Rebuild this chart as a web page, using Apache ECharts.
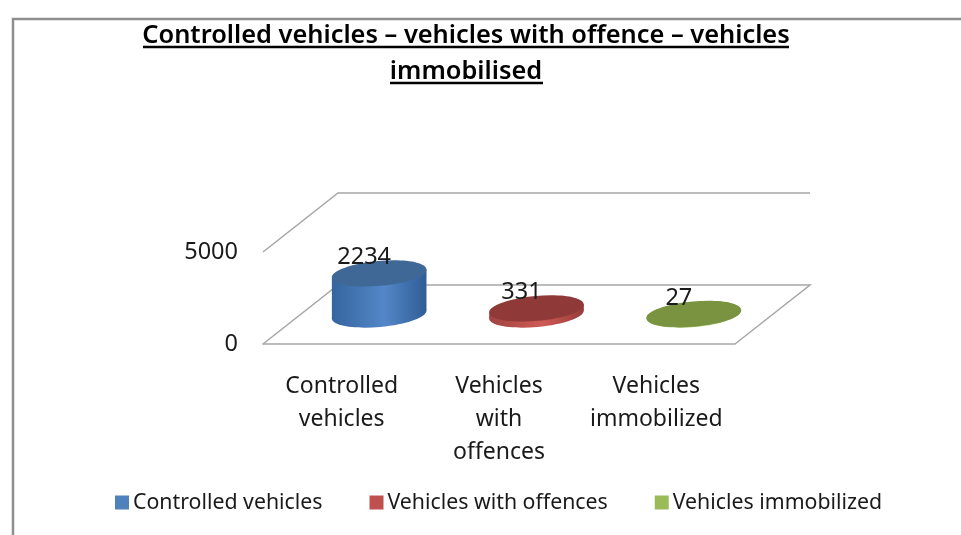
<!DOCTYPE html>
<html><head><meta charset="utf-8">
<style>html,body{margin:0;padding:0;background:#fff}#c{width:961px;height:535px}</style>
<script src="https://cdn.jsdelivr.net/npm/echarts@6/dist/echarts.min.js"></script>
</head><body><div id="c"></div>
<script>
var titleText = 'Controlled vehicles – vehicles with offence – vehicles\nimmobilised';
var categories = ['Controlled vehicles', 'Vehicles with offences', 'Vehicles immobilized'];
var values = [2234, 331, 27];
var yTicks = [0, 5000];
var legendColors = ['#4f81bd', '#c0504d', '#9bbb59'];
var sideLeft = ['#35659f', '#a04340', '#7d9a45'];
var sideMid = ['#5487c8', '#cf5a56', '#a5c563'];
var sideRight = ['#2f5d96', '#963c3a', '#76923f'];
var topColors = ['#3f6896', '#8f3a38', '#7a9340'];

var DEPTH_X = 75, DEPTH_Y = 59, RX = 47.5, RY = 12.5, TILT = 0.09;
var FONT = '"Noto Sans", sans-serif';

var chart = echarts.init(document.getElementById('c'), null, {renderer: 'canvas'});

function renderWall(params, api) {
  var cs = params.coordSys;
  var v = api.value(1);
  var y = api.coord([0, v])[1];
  var x0 = cs.x, x1 = cs.x + cs.width;
  var pts = v === 0
    ? [[x0, y], [x0 + DEPTH_X, y - DEPTH_Y], [x1 + DEPTH_X, y - DEPTH_Y], [x1, y]]
    : [[x0, y], [x0 + DEPTH_X, y - DEPTH_Y], [x1 + DEPTH_X, y - DEPTH_Y]];
  return {type: 'polyline', shape: {points: pts}, style: {stroke: '#a6a6a6', lineWidth: 1.5, fill: null}, silent: true};
}

function renderCylinder(idx) {
  return function (params, api) {
    var base = api.coord([api.value(0), 0]);
    var top = api.coord([api.value(0), api.value(1)]);
    var cx = base[0] + DEPTH_X / 2;
    var by = base[1] - DEPTH_Y / 2;
    var ty = top[1] - DEPTH_Y / 2;
    var c = Math.cos(TILT) * RX, s = Math.sin(TILT) * RX;
    var grad = new echarts.graphic.LinearGradient(0, 0, 1, 0, [
      {offset: 0, color: sideLeft[idx]},
      {offset: 0.55, color: sideMid[idx]},
      {offset: 1, color: sideRight[idx]}
    ]);
    return {type: 'group', children: [
      {type: 'ellipse', x: cx, y: by, rotation: TILT, shape: {cx: 0, cy: 0, rx: RX, ry: RY}, style: {fill: grad}},
      {type: 'polygon', shape: {points: [[cx - c, ty + s], [cx + c, ty - s], [cx + c, by - s], [cx - c, by + s]]}, style: {fill: grad}},
      {type: 'ellipse', x: cx, y: ty, rotation: TILT, shape: {cx: 0, cy: 0, rx: RX, ry: RY}, style: {fill: topColors[idx]}},
      {type: 'text', x: cx - 15, y: ty - 16, style: {text: String(api.value(1)), fill: '#1a1a1a', font: '23.5px ' + FONT, align: 'center', verticalAlign: 'middle'}}
    ]};
  };
}

var series = [{
  type: 'custom', name: 'walls', silent: true, z: 1,
  data: yTicks.map(function (t) { return [0, t]; }),
  renderItem: renderWall
}];
categories.forEach(function (name, i) {
  series.push({
    type: 'custom', name: name, z: 5 + i,
    itemStyle: {color: legendColors[i]},
    data: [[i, values[i]]],
    renderItem: renderCylinder(i)
  });
});

chart.setOption({
  animation: false,
  backgroundColor: '#fff',
  title: {
    text: titleText, left: 461, top: 13, textAlign: 'center',
    textStyle: {fontFamily: FONT, fontWeight: 600, fontSize: 25.4, lineHeight: 36, color: '#000'}
  },
  grid: {left: 263, top: 252, width: 472, height: 92},
  xAxis: {
    type: 'category', data: categories,
    axisLine: {show: true, lineStyle: {color: '#a6a6a6', width: 1.5}},
    axisTick: {show: false},
    axisLabel: {
      interval: 0, margin: 26, fontFamily: FONT, fontSize: 23, lineHeight: 33, color: '#1a1a1a',
      formatter: function (v) { return v.split(' ').join('\n'); }
    }
  },
  yAxis: {
    type: 'value', min: 0, max: 5000, interval: 5000,
    axisLine: {show: false}, axisTick: {show: false}, splitLine: {show: false},
    axisLabel: {margin: 25, fontFamily: FONT, fontSize: 23.5, color: '#1a1a1a', padding: [5, 0, 0, 0],
      formatter: function (v) { return String(v); }}
  },
  legend: {
    left: 110, top: 487, itemWidth: 14, itemHeight: 14, itemGap: 47, icon: 'rect',
    data: categories,
    textStyle: {fontFamily: FONT, fontSize: 21.3, color: '#1a1a1a', padding: [0, 0, 0, -1]}
  },
  graphic: [
    {type: 'polyline', shape: {points: [[13, 535], [13, 19], [961, 19]]}, style: {stroke: '#8f8f8f', lineWidth: 2.5, fill: null}, silent: true},
    {type: 'line', shape: {x1: 143, y1: 47, x2: 789, y2: 47}, style: {stroke: '#000', lineWidth: 2.5}, silent: true},
    {type: 'line', shape: {x1: 390, y1: 83, x2: 543, y2: 83}, style: {stroke: '#000', lineWidth: 2.5}, silent: true}
  ],
  series: series
});
</script></body></html>
